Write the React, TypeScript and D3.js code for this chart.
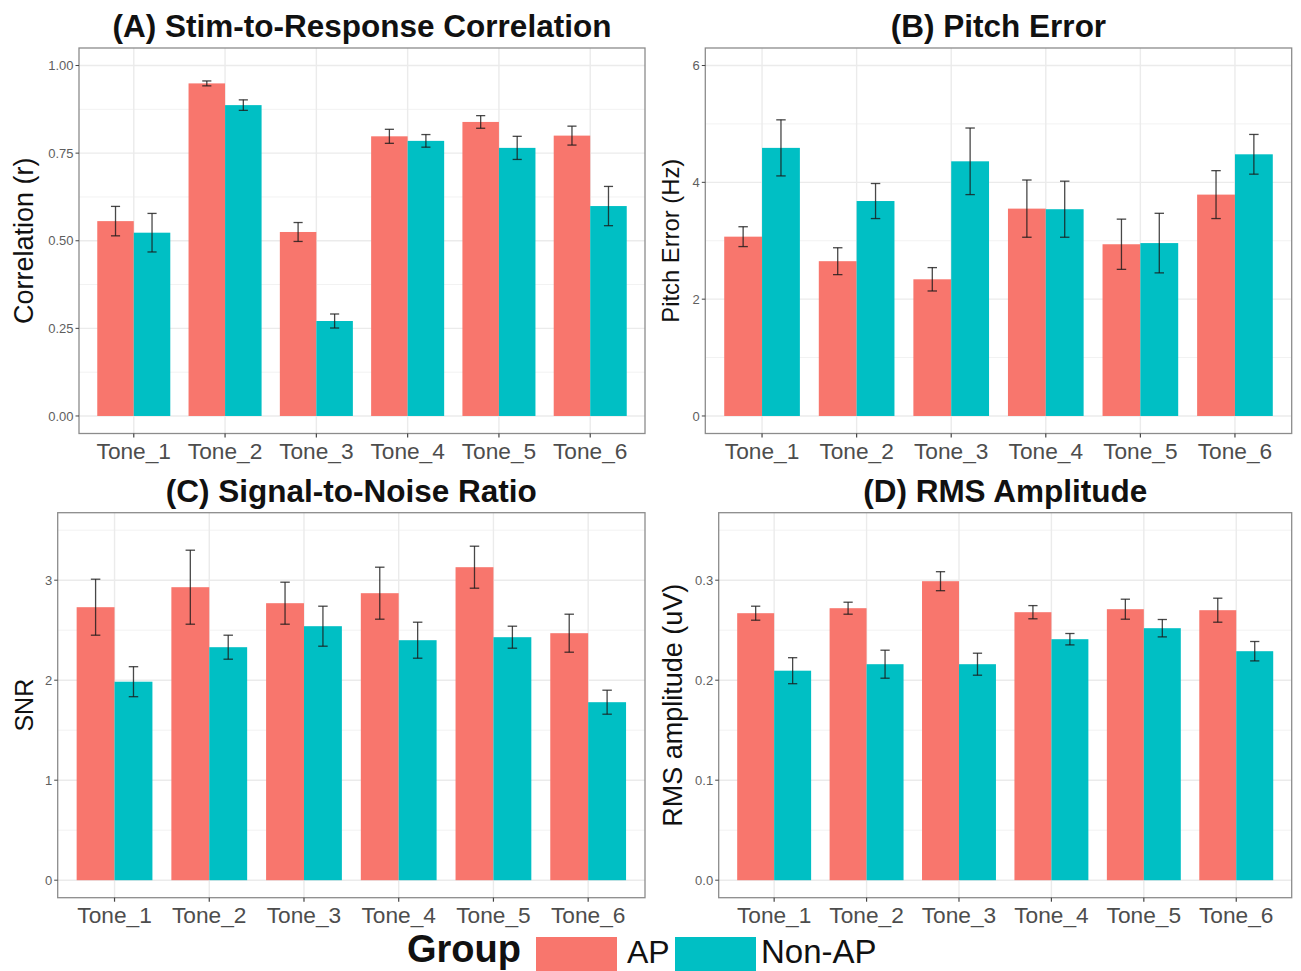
import React from "react";
import * as d3 from "d3";

const tones = ["Tone_1", "Tone_2", "Tone_3", "Tone_4", "Tone_5", "Tone_6"];
const groups = ["AP", "Non-AP"];
const groupColors = ["#F8766D", "#00BFC4"];

// (A) Stim-to-Response Correlation
const corrAP = [0.556, 0.949, 0.525, 0.798, 0.839, 0.8];
const corrAPErr = [0.042, 0.007, 0.027, 0.02, 0.018, 0.027];
const corrNon = [0.523, 0.887, 0.271, 0.785, 0.765, 0.599];
const corrNonErr = [0.055, 0.015, 0.02, 0.018, 0.033, 0.056];
const corrTicks = [0, 0.25, 0.5, 0.75, 1.0];
const corrTickLabels = ["0.00", "0.25", "0.50", "0.75", "1.00"];

// (B) Pitch Error
const pitchAP = [3.07, 2.65, 2.34, 3.55, 2.94, 3.79];
const pitchAPErr = [0.17, 0.23, 0.2, 0.49, 0.43, 0.41];
const pitchNon = [4.59, 3.68, 4.36, 3.54, 2.96, 4.48];
const pitchNonErr = [0.48, 0.3, 0.57, 0.48, 0.51, 0.34];
const pitchTicks = [0, 2, 4, 6];
const pitchTickLabels = ["0", "2", "4", "6"];

// (C) Signal-to-Noise Ratio
const snrAP = [2.73, 2.93, 2.77, 2.87, 3.13, 2.47];
const snrAPErr = [0.28, 0.37, 0.21, 0.26, 0.21, 0.19];
const snrNon = [1.985, 2.33, 2.54, 2.4, 2.43, 1.78];
const snrNonErr = [0.15, 0.12, 0.2, 0.18, 0.11, 0.12];
const snrTicks = [0, 1, 2, 3];
const snrTickLabels = ["0", "1", "2", "3"];

// (D) RMS Amplitude
const rmsAP = [0.267, 0.272, 0.299, 0.268, 0.271, 0.27];
const rmsAPErr = [0.007, 0.006, 0.0095, 0.0066, 0.01, 0.012];
const rmsNon = [0.2095, 0.216, 0.216, 0.241, 0.252, 0.229];
const rmsNonErr = [0.013, 0.014, 0.011, 0.0057, 0.0087, 0.0097];
const rmsTicks = [0, 0.1, 0.2, 0.3];
const rmsTickLabels = ["0.0", "0.1", "0.2", "0.3"];

const FONT = "'Liberation Sans', Arial, Helvetica, sans-serif";

type PanelProps = {
  left: number;
  right: number;
  top: number;
  bottom: number;
  yMax: number;
  ticks: number[];
  tickLabels: string[];
  title: string;
  yTitle: string;
  yTitleX: number;
  yTitleSize: number;
  ap: number[];
  apErr: number[];
  non: number[];
  nonErr: number[];
};

function Panel(p: PanelProps) {
  const pad = p.yMax * 0.05;
  const y = d3.scaleLinear().domain([-pad, p.yMax + pad]).range([p.bottom, p.top]);
  const x = d3.scalePoint<string>().domain(tones).range([p.left, p.right]).padding(0.6);
  const step = x.step();
  const bw = step * 0.4;
  const minor: number[] = [];
  for (let i = 0; i < p.ticks.length; i++) {
    const a = p.ticks[i];
    const b = i + 1 < p.ticks.length ? p.ticks[i + 1] : a + (p.ticks[1] - p.ticks[0]);
    const m = (a + b) / 2;
    if (m <= p.yMax + pad) minor.push(m);
  }
  const series = [
    { vals: p.ap, errs: p.apErr, off: -1 },
    { vals: p.non, errs: p.nonErr, off: 0 },
  ];
  const cx = (p.left + p.right) / 2;
  const cy = (p.top + p.bottom) / 2;
  return (
    <g>
      <rect x={p.left} y={p.top} width={p.right - p.left} height={p.bottom - p.top} fill="#fff" />
      {minor.map((m) => (
        <line key={"mi" + m} x1={p.left} x2={p.right} y1={y(m)} y2={y(m)} stroke="#F2F2F2" strokeWidth={1} />
      ))}
      {p.ticks.map((t) => (
        <line key={"ma" + t} x1={p.left} x2={p.right} y1={y(t)} y2={y(t)} stroke="#EBEBEB" strokeWidth={1.4} />
      ))}
      {tones.map((t) => (
        <line key={"vx" + t} x1={x(t)} x2={x(t)} y1={p.top} y2={p.bottom} stroke="#EBEBEB" strokeWidth={1.4} />
      ))}
      {series.map((s, si) =>
        tones.map((t, i) => {
          const x0 = (x(t) as number) + s.off * bw;
          return (
            <rect
              key={"b" + si + t}
              x={x0}
              width={bw}
              y={y(s.vals[i])}
              height={y(0) - y(s.vals[i])}
              fill={groupColors[si]}
            />
          );
        })
      )}
      {series.map((s, si) =>
        tones.map((t, i) => {
          const xc = (x(t) as number) + s.off * bw + bw / 2;
          const hi = y(s.vals[i] + s.errs[i]);
          const lo = y(s.vals[i] - s.errs[i]);
          const cw = bw * 0.125;
          return (
            <g key={"e" + si + t} stroke="#1a1a1a" strokeOpacity={0.8} strokeWidth={1.3}>
              <line x1={xc} x2={xc} y1={hi} y2={lo} />
              <line x1={xc - cw} x2={xc + cw} y1={hi} y2={hi} />
              <line x1={xc - cw} x2={xc + cw} y1={lo} y2={lo} />
            </g>
          );
        })
      )}
      <rect
        x={p.left}
        y={p.top}
        width={p.right - p.left}
        height={p.bottom - p.top}
        fill="none"
        stroke="#8C8C8C"
        strokeWidth={1.3}
      />
      {p.ticks.map((t, i) => (
        <g key={"yt" + t}>
          <line x1={p.left - 3.5} x2={p.left} y1={y(t)} y2={y(t)} stroke="#444" strokeWidth={1} />
          <text
            x={p.left - 5.5}
            y={y(t)}
            dy="0.36em"
            textAnchor="end"
            fontSize={13}
            fill="#5e5e5e"
            fontFamily={FONT}
          >
            {p.tickLabels[i]}
          </text>
        </g>
      ))}
      {tones.map((t) => (
        <g key={"xt" + t}>
          <line x1={x(t)} x2={x(t)} y1={p.bottom} y2={p.bottom + 4} stroke="#444" strokeWidth={1.2} />
          <text
            x={x(t)}
            y={p.bottom + 25.5}
            textAnchor="middle"
            fontSize={22.7}
            fill="#4D4D4D"
            fontFamily={FONT}
          >
            {t}
          </text>
        </g>
      ))}
      <text
        transform={`translate(${p.yTitleX},${cy}) rotate(-90)`}
        textAnchor="middle"
        fontSize={p.yTitleSize}
        fill="#111"
        fontFamily={FONT}
      >
        {p.yTitle}
      </text>
      <text
        x={cx}
        y={p.top - 11}
        textAnchor="middle"
        fontSize={31.5}
        fontWeight="bold"
        fill="#111"
        fontFamily={FONT}
      >
        {p.title}
      </text>
    </g>
  );
}

export default function App() {
  return (
    <svg
      width={1301}
      height={971}
      style={{ position: "absolute", left: 0, top: 0, background: "#fff" }}
    >
      <rect x={0} y={0} width={1301} height={971} fill="#fff" />
      <Panel
        left={79}
        right={645}
        top={48}
        bottom={433.5}
        yMax={1}
        ticks={corrTicks}
        tickLabels={corrTickLabels}
        title="(A) Stim-to-Response Correlation"
        yTitle="Correlation (r)"
        yTitleX={33}
        yTitleSize={27}
        ap={corrAP}
        apErr={corrAPErr}
        non={corrNon}
        nonErr={corrNonErr}
      />
      <Panel
        left={705.3}
        right={1291.7}
        top={48}
        bottom={433.5}
        yMax={6}
        ticks={pitchTicks}
        tickLabels={pitchTickLabels}
        title="(B) Pitch Error"
        yTitle="Pitch Error (Hz)"
        yTitleX={679}
        yTitleSize={23.8}
        ap={pitchAP}
        apErr={pitchAPErr}
        non={pitchNon}
        nonErr={pitchNonErr}
      />
      <Panel
        left={57.7}
        right={645}
        top={512.7}
        bottom={897.7}
        yMax={3.5}
        ticks={snrTicks}
        tickLabels={snrTickLabels}
        title="(C) Signal-to-Noise Ratio"
        yTitle="SNR"
        yTitleX={33}
        yTitleSize={25}
        ap={snrAP}
        apErr={snrAPErr}
        non={snrNon}
        nonErr={snrNonErr}
      />
      <Panel
        left={718.7}
        right={1291.7}
        top={512.7}
        bottom={897.7}
        yMax={0.35}
        ticks={rmsTicks}
        tickLabels={rmsTickLabels}
        title="(D) RMS Amplitude"
        yTitle="RMS amplitude (uV)"
        yTitleX={682}
        yTitleSize={27}
        ap={rmsAP}
        apErr={rmsAPErr}
        non={rmsNon}
        nonErr={rmsNonErr}
      />
      <g fontFamily={FONT}>
        <text x={407} y={962} fontSize={38} fontWeight="bold" fill="#111">
          Group
        </text>
        <rect x={536} y={937} width={81} height={34} fill={groupColors[0]} />
        <text x={627} y={963} fontSize={32} fill="#111">
          {groups[0]}
        </text>
        <rect x={675} y={937} width={81} height={34} fill={groupColors[1]} />
        <text x={761} y={963} fontSize={33} fill="#111">
          {groups[1]}
        </text>
      </g>
    </svg>
  );
}
